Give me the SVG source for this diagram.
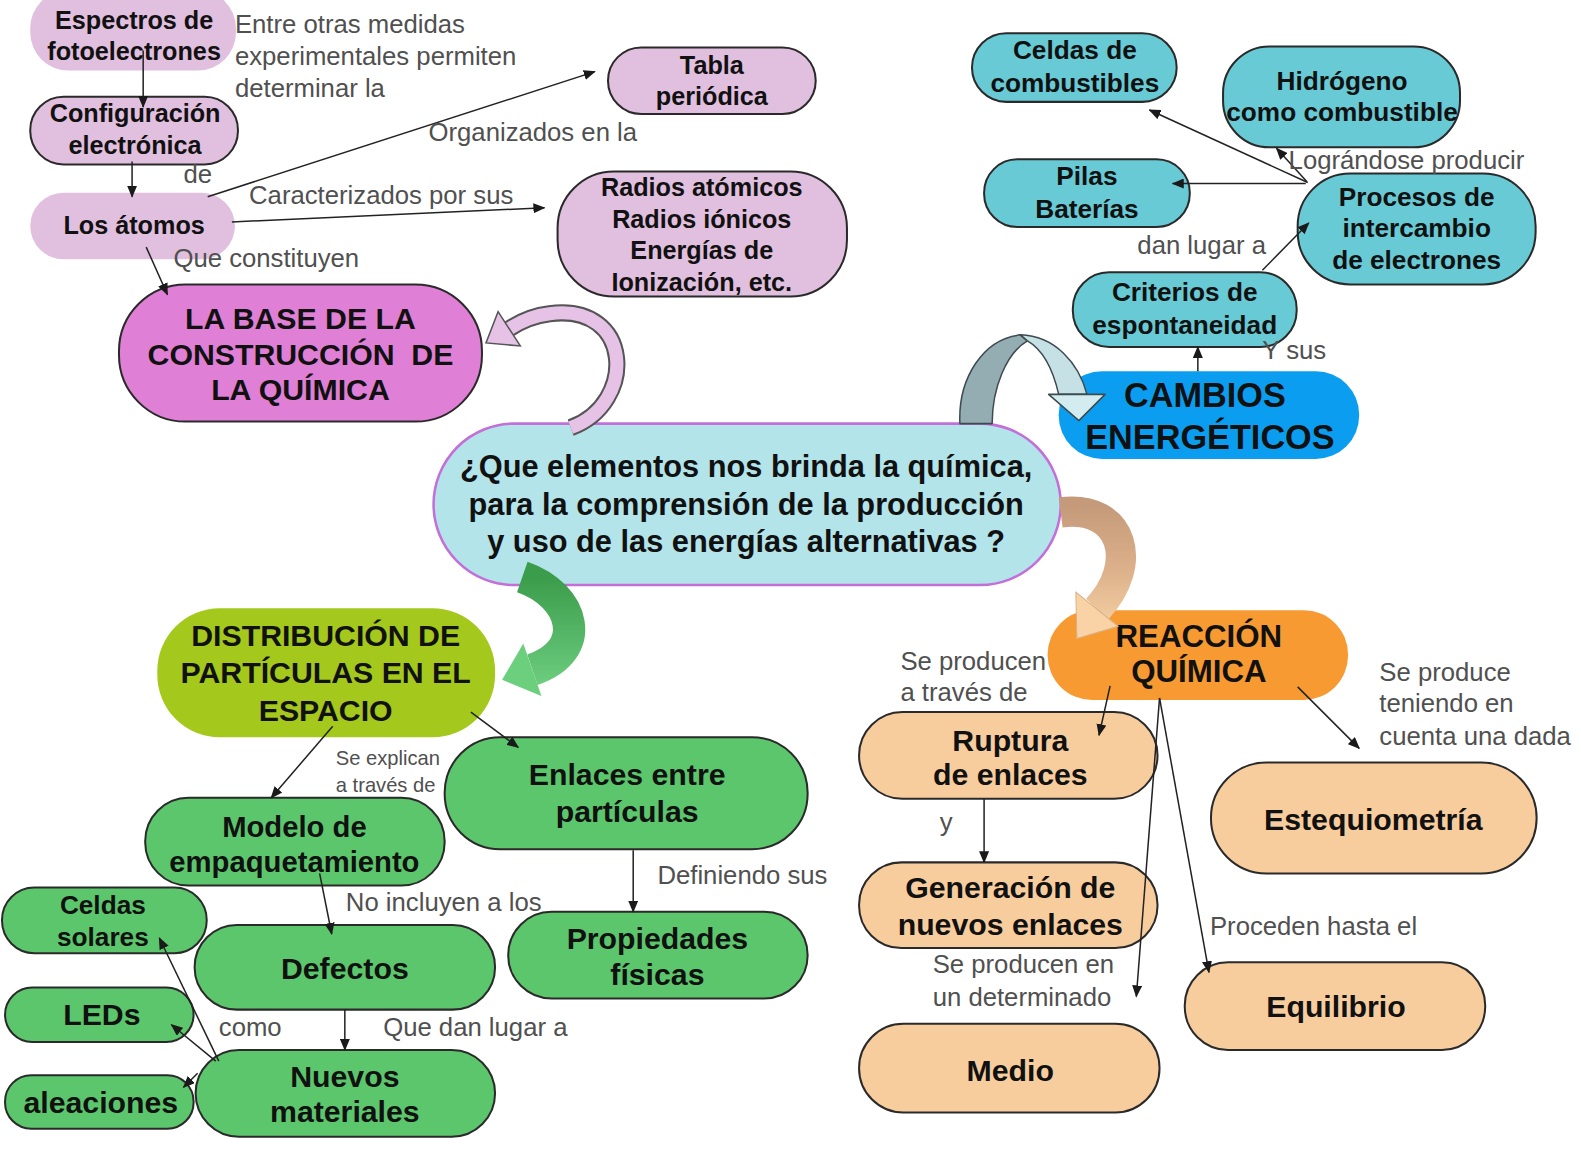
<svg xmlns="http://www.w3.org/2000/svg" width="1581" height="1170" viewBox="0 0 1581 1170">
<defs>
<marker id="ah" markerUnits="userSpaceOnUse" markerWidth="12" markerHeight="10" refX="11" refY="5" orient="auto"><path d="M0,0 L12,5 L0,10 z" fill="#1a1a1a"/></marker>
<linearGradient id="gGreen" gradientUnits="userSpaceOnUse" x1="0" y1="572" x2="0" y2="690"><stop offset="0" stop-color="#3b9c4b"/><stop offset="1" stop-color="#72d285"/></linearGradient>
<linearGradient id="gOrange" gradientUnits="userSpaceOnUse" x1="0" y1="500" x2="0" y2="630"><stop offset="0" stop-color="#c49a7a"/><stop offset="0.45" stop-color="#d9ae88"/><stop offset="1" stop-color="#f9d3a6"/></linearGradient>
</defs>
<style>
.n{stroke:#2a2a2a;stroke-width:2}
.pk{fill:#e1bfdf}
.mg{fill:#e07fd6}
.cy{fill:#68cad5}
.gr{fill:#5cc66c}
.pe{fill:#f8cd9e}
.t{font-family:"Liberation Sans",Arial,sans-serif;font-weight:bold;fill:#111;text-anchor:middle;dominant-baseline:central}
.l{font-family:"Liberation Sans",Arial,sans-serif;fill:#505050;font-size:25.5px;dominant-baseline:central}
.ls{font-size:20px}
.e{stroke:#222;stroke-width:1.5;fill:none;marker-end:url(#ah)}
.ba{stroke:#3d4a50;stroke-width:1.5;stroke-linejoin:round}
</style>
<rect width="1581" height="1170" fill="#ffffff"/>
<g transform="scale(1.00829 1.00862)">
<g id="n-espectros"><rect class="pk" x="30" y="-10" width="204" height="80" rx="38"/><text class="t" font-size="25" x="133" y="20">Espectros de</text><text class="t" font-size="25" x="133" y="51">fotoelectrones</text></g>
<g id="n-configuracion"><rect class="pk n" x="30" y="96" width="206" height="67" rx="33"/><text class="t" font-size="25" x="134" y="112">Configuración</text><text class="t" font-size="25" x="134" y="144">electrónica</text></g>
<g id="n-atomos"><rect class="pk" x="30" y="191" width="203" height="66" rx="33"/><text class="t" font-size="25" x="133" y="223">Los átomos</text></g>
<g id="n-tabla"><rect class="pk n" x="603" y="47" width="206" height="66" rx="33"/><text class="t" font-size="25" x="706" y="64">Tabla</text><text class="t" font-size="25" x="706" y="95">periódica</text></g>
<g id="n-radios"><rect class="pk n" x="553" y="170" width="287" height="124" rx="56"/><text class="t" font-size="25" x="696" y="185">Radios atómicos</text><text class="t" font-size="25" x="696" y="217">Radios iónicos</text><text class="t" font-size="25" x="696" y="248">Energías de</text><text class="t" font-size="25" x="696" y="280">Ionización, etc.</text></g>
<g id="n-base"><rect class="mg n" x="118" y="282" width="360" height="136" rx="66"/><text class="t" font-size="30" x="298" y="316">LA BASE DE LA</text><text class="t" font-size="30" x="298" y="351" xml:space="preserve">CONSTRUCCIÓN  DE</text><text class="t" font-size="30" x="298" y="386">LA QUÍMICA</text></g>
<g id="n-central"><rect x="430" y="420" width="622" height="160" rx="80" fill="#b2e4ea" stroke="#c46ed8" stroke-width="2.5"/><text class="t" font-size="30.5" x="740" y="463">¿Que elementos nos brinda la química,</text><text class="t" font-size="30.5" x="740" y="500">para la comprensión de la producción</text><text class="t" font-size="30.5" x="740" y="537">y uso de las energías alternativas ?</text></g>
<g id="n-cambios"><rect x="1050" y="368" width="298" height="87" rx="43" fill="#0b9ef0"/><text class="t" font-size="34" x="1195" y="392">CAMBIOS</text><text class="t" font-size="34" x="1200" y="433">ENERGÉTICOS</text></g>
<g id="n-celdascomb"><rect class="cy n" x="964" y="33" width="203" height="68" rx="34"/><text class="t" font-size="26" x="1066" y="50">Celdas de</text><text class="t" font-size="26" x="1066" y="82">combustibles</text></g>
<g id="n-hidrogeno"><rect class="cy n" x="1213" y="46" width="235" height="100" rx="46"/><text class="t" font-size="26" x="1331" y="80">Hidrógeno</text><text class="t" font-size="26" x="1331" y="111">como combustible</text></g>
<g id="n-pilas"><rect class="cy n" x="976" y="158" width="204" height="67" rx="33"/><text class="t" font-size="26" x="1078" y="175">Pilas</text><text class="t" font-size="26" x="1078" y="207">Baterías</text></g>
<g id="n-procesos"><rect class="cy n" x="1287" y="172" width="236" height="110" rx="52"/><text class="t" font-size="26" x="1405" y="195">Procesos de</text><text class="t" font-size="26" x="1405" y="226">intercambio</text><text class="t" font-size="26" x="1405" y="258">de electrones</text></g>
<g id="n-criterios"><rect class="cy n" x="1064" y="270" width="222" height="74" rx="36"/><text class="t" font-size="26" x="1175" y="290">Criterios de</text><text class="t" font-size="26" x="1175" y="322">espontaneidad</text></g>
<g id="n-distribucion"><rect x="156" y="603" width="335" height="128" rx="62" fill="#a4c81c"/><text class="t" font-size="30" x="323" y="630">DISTRIBUCIÓN DE</text><text class="t" font-size="30" x="323" y="667">PARTÍCULAS EN EL</text><text class="t" font-size="30" x="323" y="704">ESPACIO</text></g>
<g id="n-enlaces"><rect class="gr n" x="441" y="731" width="360" height="111" rx="55"/><text class="t" font-size="30" x="622" y="768">Enlaces entre</text><text class="t" font-size="30" x="622" y="805">partículas</text></g>
<g id="n-modelo"><rect class="gr n" x="144" y="791" width="297" height="87" rx="43"/><text class="t" font-size="29" x="292" y="820">Modelo de</text><text class="t" font-size="29" x="292" y="855">empaquetamiento</text></g>
<g id="n-propiedades"><rect class="gr n" x="504" y="904" width="297" height="86" rx="43"/><text class="t" font-size="30" x="652" y="930">Propiedades</text><text class="t" font-size="30" x="652" y="966">físicas</text></g>
<g id="n-celdassol"><rect class="gr n" x="2" y="880" width="203" height="65" rx="32"/><text class="t" font-size="26" x="102" y="897">Celdas</text><text class="t" font-size="26" x="102" y="929">solares</text></g>
<g id="n-defectos"><rect class="gr n" x="193" y="917" width="298" height="84" rx="42"/><text class="t" font-size="30" x="342" y="960">Defectos</text></g>
<g id="n-leds"><rect class="gr n" x="5" y="979" width="187" height="54" rx="27"/><text class="t" font-size="30" x="101" y="1006">LEDs</text></g>
<g id="n-aleaciones"><rect class="gr n" x="5" y="1066" width="187" height="53" rx="26"/><text class="t" font-size="30" x="100" y="1093">aleaciones</text></g>
<g id="n-nuevos"><rect class="gr n" x="194" y="1041" width="297" height="86" rx="43"/><text class="t" font-size="30" x="342" y="1067">Nuevos</text><text class="t" font-size="30" x="342" y="1102">materiales</text></g>
<g id="n-reaccion"><rect x="1039" y="605" width="298" height="89" rx="44" fill="#f89a32"/><text class="t" font-size="31" x="1189" y="631">REACCIÓN</text><text class="t" font-size="31" x="1189" y="666">QUÍMICA</text></g>
<g id="n-ruptura"><rect class="pe n" x="852" y="706" width="296" height="86" rx="43"/><text class="t" font-size="30" x="1002" y="734">Ruptura</text><text class="t" font-size="30" x="1002" y="768">de enlaces</text></g>
<g id="n-generacion"><rect class="pe n" x="852" y="855" width="296" height="85" rx="42"/><text class="t" font-size="30" x="1002" y="880">Generación de</text><text class="t" font-size="30" x="1002" y="917">nuevos enlaces</text></g>
<g id="n-medio"><rect class="pe n" x="852" y="1015" width="298" height="88" rx="44"/><text class="t" font-size="30" x="1002" y="1061">Medio</text></g>
<g id="n-estequiometria"><rect class="pe n" x="1201" y="756" width="323" height="110" rx="55"/><text class="t" font-size="30" x="1362" y="813">Estequiometría</text></g>
<g id="n-equilibrio"><rect class="pe n" x="1175" y="954" width="298" height="87" rx="43"/><text class="t" font-size="30" x="1325" y="998">Equilibrio</text></g>

<g id="block-arrows">
<path d="M566 424 C 632 400, 628 300, 545 311 C 528 313, 514 320, 505 326" fill="none" stroke="#555" stroke-width="17"/>
<path d="M566 424 C 632 400, 628 300, 545 311 C 528 313, 514 320, 505 326" fill="none" stroke="#e6c3e6" stroke-width="13"/>
<polygon points="494,309 516,343 482,340" fill="#e6c3e6" stroke="#555" stroke-width="1.5"/>
<path class="ba" d="M952,420 C 950,375 975,336 1012,332 L 1019,338 C 998,350 984,385 984,420 Z" fill="#94adb3"/>
<path class="ba" d="M1012,332 C 1046,333 1070,360 1078,391 L 1050,391 C 1044,365 1033,346 1019,338 Z" fill="#c6e1e5"/>
<polygon class="ba" points="1040,391 1096,391 1070,417" fill="#d2ecef"/>
<path d="M518 572 C 570 590, 585 645, 528 664" fill="none" stroke="url(#gGreen)" stroke-width="32"/>
<polygon points="519,638 537,690 498,674" fill="#6ccf7e"/>
<path d="M1052 508 C 1115 500, 1130 560, 1088 604" fill="none" stroke="url(#gOrange)" stroke-width="30"/>
<polygon points="1067,587 1109,621 1068,633" fill="#f9d3a6" stroke="#d8b088" stroke-width="1"/>
</g>

<g id="connectors">
<line class="e" x1="142" y1="50" x2="142" y2="106"/>
<line class="e" x1="131" y1="160" x2="131" y2="195"/>
<line class="e" x1="206" y1="195" x2="590" y2="71"/>
<line class="e" x1="230" y1="220" x2="540" y2="206"/>
<line class="e" x1="145" y1="245" x2="166" y2="292"/>
<line class="e" x1="1297" y1="181" x2="1140" y2="109"/>
<line class="e" x1="1296" y1="180" x2="1266" y2="147"/>
<line class="e" x1="1295" y1="182" x2="1163" y2="182"/>
<line class="e" x1="1252" y1="268" x2="1298" y2="221"/>
<line class="e" x1="1188" y1="368" x2="1188" y2="344"/>
<line class="e" x1="467" y1="706" x2="514" y2="741"/>
<line class="e" x1="330" y1="720" x2="269" y2="791"/>
<line class="e" x1="628" y1="843" x2="628" y2="904"/>
<line class="e" x1="317" y1="866" x2="329" y2="926"/>
<line class="e" x1="342" y1="1001" x2="342" y2="1041"/>
<line class="e" x1="217" y1="1052" x2="158" y2="930"/>
<line class="e" x1="214" y1="1052" x2="170" y2="1016"/>
<line class="e" x1="196" y1="1064" x2="182" y2="1078"/>
<line class="e" x1="1101" y1="680" x2="1090" y2="729"/>
<line class="e" x1="976" y1="792" x2="976" y2="855"/>
<line class="e" x1="1150" y1="692" x2="1127" y2="988"/>
<line class="e" x1="1150" y1="692" x2="1199" y2="964"/>
<line class="e" x1="1287" y1="681" x2="1348" y2="742"/>
</g>

<g id="labels">
<text class="l" x="233" y="24">Entre otras medidas</text>
<text class="l" x="233" y="56">experimentales permiten</text>
<text class="l" x="233" y="87">determinar la</text>
<text class="l" x="182" y="173">de</text>
<text class="l" x="425" y="131">Organizados en la</text>
<text class="l" x="247" y="193">Caracterizados por sus</text>
<text class="l" x="172" y="256">Que constituyen</text>
<text class="l" x="1278" y="159">Lográndose producir</text>
<text class="l" x="1128" y="243">dan lugar a</text>
<text class="l" x="1252" y="347">Y sus</text>
<text class="l ls" x="333" y="752">Se explican</text>
<text class="l ls" x="333" y="778">a través de</text>
<text class="l" x="652" y="868">Definiendo sus</text>
<text class="l" x="343" y="894">No incluyen a los</text>
<text class="l" x="217" y="1018">como</text>
<text class="l" x="380" y="1018">Que dan lugar a</text>
<text class="l" x="893" y="655">Se producen</text>
<text class="l" x="893" y="686">a través de</text>
<text class="l" x="1368" y="666">Se produce</text>
<text class="l" x="1368" y="697">teniendo en</text>
<text class="l" x="1368" y="730">cuenta una dada</text>
<text class="l" x="932" y="815">y</text>
<text class="l" x="1200" y="918">Proceden hasta el</text>
<text class="l" x="925" y="956">Se producen en</text>
<text class="l" x="925" y="988">un determinado</text>
</g>
</g>
</svg>
